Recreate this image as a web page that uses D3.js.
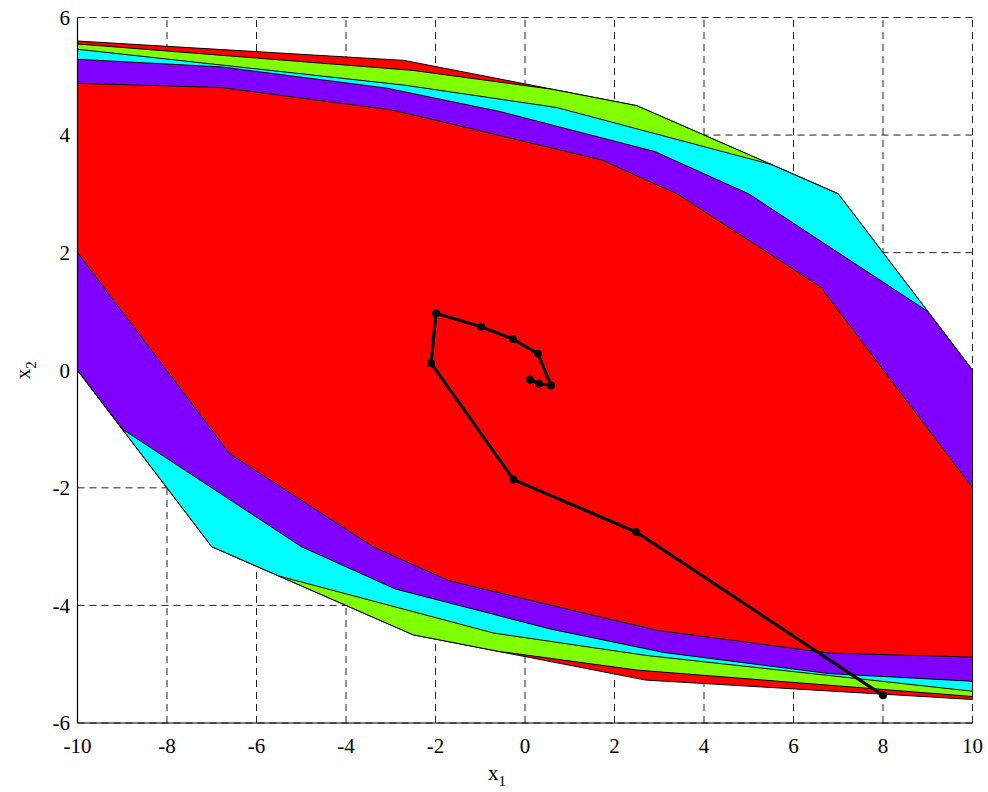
<!DOCTYPE html>
<html>
<head>
<meta charset="utf-8">
<script src="https://cdn.jsdelivr.net/npm/d3@7/dist/d3.min.js"></script>
<style>
  body { margin: 0; background: #fff; }
  text { font-family: "Liberation Serif", "DejaVu Serif", serif; fill: #000; }
</style>
</head>
<body>
<div id="chart"></div>
<script>
// nested invariant sets, outermost first, as [x1, x2] vertices
let setOuter = [[-10, 5.6], [-2.7, 5.27], [2.5, 4.5], [7, 3], [9, 1], [10, 0],
    [10, -5.6], [2.7, -5.27], [-2.5, -4.5], [-7, -3], [-9, -1], [-10, 0]];
let setGreen = [[-10, 5.55], [-2.5, 5.1], [0.6, 4.78], [2.5, 4.5], [5.5, 3.5], [7, 3], [9, 1], [10, 0],
    [10, -5.55], [2.5, -5.1], [-0.6, -4.78], [-2.5, -4.5], [-5.5, -3.5], [-7, -3], [-9, -1], [-10, 0]];
let setCyan = [[-10, 5.46], [-2.7, 4.85], [0.7, 4.47], [5.5, 3.5], [7, 3], [9, 1], [10, 0],
    [10, -5.46], [2.7, -4.85], [-0.7, -4.47], [-5.5, -3.5], [-7, -3], [-9, -1], [-10, 0]];
let setPurple = [[-10, 5.29], [-6.8, 5.16], [-3.1, 4.8], [-0.56, 4.4], [2.9, 3.72], [5, 3], [9, 1], [10, 0],
    [10, -5.29], [6.8, -5.16], [3.1, -4.8], [0.56, -4.4], [-2.9, -3.72], [-5, -3], [-9, -1], [-10, 0]];
let setInner = [[-10, 4.88], [-6.8, 4.81], [-3, 4.43], [-1.7, 4.2], [1.7, 3.58], [3.4, 3], [6.6, 1.42], [10, -2],
    [10, -4.88], [6.8, -4.81], [3, -4.43], [1.7, -4.2], [-1.7, -3.58], [-3.4, -3], [-6.6, -1.42], [-10, 2]];

let sets = [setOuter, setGreen, setCyan, setPurple, setInner];
let setColors = ["#ff0000", "#80ff00", "#00ffff", "#8000ff", "#ff0000"];

// closed-loop state trajectory
let trajectory = [[8, -5.53], [2.48, -2.75], [-0.26, -1.86], [-2.1, 0.12], [-1.99, 0.97], [-0.98, 0.74],
    [-0.27, 0.53], [0.29, 0.28], [0.58, -0.26], [0.31, -0.23], [0.11, -0.16]];

let xTicks = [-10, -8, -6, -4, -2, 0, 2, 4, 6, 8, 10];
let yTicks = [-6, -4, -2, 0, 2, 4, 6];

let width = 988;
let height = 792;

let xScale = d3.scaleLinear().domain([-10, 10]).range([77.5, 972.5]);
let yScale = d3.scaleLinear().domain([-6, 6]).range([723, 17.5]);

let svg = d3.select("#chart")
    .append("svg")
    .attr("width", width)
    .attr("height", height);

svg.append("rect")
    .attr("width", width)
    .attr("height", height)
    .attr("fill", "#fff");

// dashed grid underneath the sets
svg.selectAll("line.gridx")
    .data(xTicks)
    .enter()
    .append("line")
    .attr("x1", function (d) { return xScale(d); })
    .attr("x2", function (d) { return xScale(d); })
    .attr("y1", yScale(-6))
    .attr("y2", yScale(6))
    .attr("stroke", "#222")
    .attr("stroke-width", 1)
    .attr("stroke-dasharray", "7,5");

svg.selectAll("line.gridy")
    .data(yTicks)
    .enter()
    .append("line")
    .attr("x1", xScale(-10))
    .attr("x2", xScale(10))
    .attr("y1", function (d) { return yScale(d); })
    .attr("y2", function (d) { return yScale(d); })
    .attr("stroke", "#222")
    .attr("stroke-width", 1)
    .attr("stroke-dasharray", "7,5");

let polyLine = d3.line()
    .x(function (p) { return xScale(p[0]); })
    .y(function (p) { return yScale(p[1]); })
    .curve(d3.curveLinearClosed);

svg.selectAll("path.set")
    .data(sets)
    .enter()
    .append("path")
    .attr("class", "set")
    .attr("d", function (s) { return polyLine(s); })
    .attr("fill", function (s, i) { return setColors[i]; })
    .attr("stroke", "#000")
    .attr("stroke-width", 1)
    .attr("stroke-linejoin", "round");

// axis lines (left and bottom only)
svg.append("line")
    .attr("x1", xScale(-10)).attr("x2", xScale(-10))
    .attr("y1", yScale(-6)).attr("y2", yScale(6))
    .attr("stroke", "#000").attr("stroke-width", 1.2);
svg.append("line")
    .attr("x1", xScale(-10)).attr("x2", xScale(10))
    .attr("y1", yScale(-6)).attr("y2", yScale(-6))
    .attr("stroke", "#000").attr("stroke-width", 1.2);

// trajectory
let trajLine = d3.line()
    .x(function (p) { return xScale(p[0]); })
    .y(function (p) { return yScale(p[1]); });

svg.append("path")
    .attr("d", trajLine(trajectory))
    .attr("fill", "none")
    .attr("stroke", "#000")
    .attr("stroke-width", 3.2)
    .attr("stroke-linejoin", "round");

svg.selectAll("circle.pt")
    .data(trajectory)
    .enter()
    .append("circle")
    .attr("cx", function (p) { return xScale(p[0]); })
    .attr("cy", function (p) { return yScale(p[1]); })
    .attr("r", 4)
    .attr("fill", "#000");

// tick labels
svg.selectAll("text.xt")
    .data(xTicks)
    .enter()
    .append("text")
    .text(function (d) { return d; })
    .attr("x", function (d) { return xScale(d); })
    .attr("y", 753)
    .attr("text-anchor", "middle")
    .attr("font-size", "21px");

svg.selectAll("text.yt")
    .data(yTicks)
    .enter()
    .append("text")
    .text(function (d) { return d; })
    .attr("x", 70)
    .attr("y", function (d) { return yScale(d); })
    .attr("dy", "0.35em")
    .attr("text-anchor", "end")
    .attr("font-size", "21px");

// axis titles
let xl = svg.append("text")
    .attr("x", 497)
    .attr("y", 780)
    .attr("text-anchor", "middle")
    .attr("font-size", "21px");
xl.append("tspan").text("x");
xl.append("tspan").text("1").attr("font-size", "15px").attr("dy", 6);

let yl = svg.append("text")
    .attr("transform", "translate(30," + yScale(0) + ") rotate(-90)")
    .attr("text-anchor", "middle")
    .attr("font-size", "21px");
yl.append("tspan").text("x");
yl.append("tspan").text("2").attr("font-size", "15px").attr("dy", 6);
</script>
</body>
</html>
